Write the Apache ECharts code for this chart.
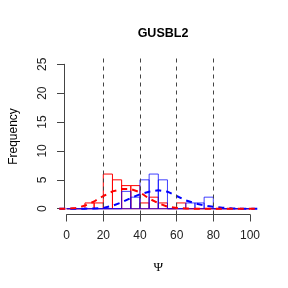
<!DOCTYPE html>
<html>
<head>
<meta charset="utf-8">
<script src="https://cdn.jsdelivr.net/npm/echarts@6/dist/echarts.min.js"></script>
<style>html,body{margin:0;padding:0;background:#fff}#c{width:288px;height:288px}</style>
</head>
<body>
<div id="c"></div>
<script>
// ---- data ----
var binStarts = [0,5,10,15,20,25,30,35,40,45,50,55,60,65,70,75,80,85,90,95];
var binWidth = 5;
var redCounts  = [0,0,1,1,6,5,4,4,1,2,1,0,1,0,0,0,0,0,0,0];
var blueCounts = [0,0,0,0,0,0,3,2,5,6,5,0,0,1,1,2,0,0,0,0];
var densX    = [-4,0,5,10,15,20,25,30,35,40,45,50,55,60,65,70,75,80,85,90,95,100,104];
var redDens  = [0,0.02,0.12,0.55,1.25,2.2,3.0,3.4,3.4,2.85,1.75,0.95,0.35,0.12,0.04,0.01,0,0,0,0,0,0,0];
var blueDens = [0,0,0,0.01,0.04,0.15,0.5,1.1,1.85,2.5,2.95,3.2,2.95,2.2,1.45,0.95,0.55,0.33,0.17,0.07,0.02,0.01,0];
var vLines = [20,40,60,80];
var xTicks = {min:0, max:100, step:20};
var yTicks = {min:0, max:25, step:5};
var titleText = 'GUSBL2';
var xName = 'Ψ';
var yName = 'Frequency';

// ---- layout ----
var plotL = 59.3, plotR = 257.3, plotT = 58.5, plotB = 214.5;
var xMin = -4, xMax = 104, yMin = -1, yMax = 26;
var sx = (plotR - plotL) / (xMax - xMin);
var sy = (plotB - plotT) / (yMax - yMin);

function histData(counts){
  return binStarts.map(function(s,i){ return [s, s+binWidth, counts[i]]; });
}
function zip(xs, ys){ return xs.map(function(x,i){ return [x, ys[i]]; }); }
function histRender(color){
  return function(params, api){
    var p0 = api.coord([api.value(0), api.value(2)]);
    var p1 = api.coord([api.value(1), 0]);
    return {
      type:'rect',
      shape:{x:p0[0], y:p0[1], width:p1[0]-p0[0], height:p1[1]-p0[1]},
      style:{fill:'none', stroke:color, lineWidth:1}
    };
  };
}

var font = 'Liberation Sans, Arial, sans-serif';
var chart = echarts.init(document.getElementById('c'), null, {renderer:'canvas'});
chart.setOption({
  animation:false,
  backgroundColor:'#fff',
  title:{text:titleText, left:158, top:22, textAlign:'center',
    textStyle:{fontSize:12.5, fontWeight:'bold', fontFamily:font, color:'#000'}},
  grid:[
    {left:plotL, top:plotT, width:plotR-plotL, height:plotB-plotT},
    {left:plotL + (xTicks.min-xMin)*sx, top:plotT, width:(xTicks.max-xTicks.min)*sx, height:plotB-plotT},
    {left:plotL, top:plotB-(yTicks.max-yMin)*sy, width:plotR-plotL, height:(yTicks.max-yTicks.min)*sy}
  ],
  xAxis:[
    {gridIndex:0, type:'value', min:xMin, max:xMax, show:false},
    {gridIndex:1, type:'value', min:xTicks.min, max:xTicks.max, interval:xTicks.step,
      axisLine:{show:true, lineStyle:{color:'#444', width:1}},
      axisTick:{show:true, inside:false, length:7, lineStyle:{color:'#444'}},
      axisLabel:{margin:15, fontSize:12, color:'#222', fontFamily:font},
      splitLine:{show:false},
      name:xName, nameLocation:'middle', nameGap:47,
      nameTextStyle:{fontSize:13, color:'#000', fontFamily:'Liberation Serif, serif'}},
    {gridIndex:2, type:'value', min:0, max:1, show:false}
  ],
  yAxis:[
    {gridIndex:0, type:'value', min:yMin, max:yMax, show:false},
    {gridIndex:1, type:'value', min:0, max:1, show:false},
    {gridIndex:2, type:'value', min:yTicks.min, max:yTicks.max, interval:yTicks.step,
      axisLine:{show:true, lineStyle:{color:'#444', width:1}},
      axisTick:{show:true, inside:false, length:7, lineStyle:{color:'#444'}},
      axisLabel:{margin:15, fontSize:12, color:'#222', rotate:90, fontFamily:font},
      splitLine:{show:false},
      name:yName, nameLocation:'middle', nameGap:44, nameRotate:90,
      nameTextStyle:{fontSize:12, color:'#000', fontFamily:font}}
  ],
  series:[
    {type:'custom', xAxisIndex:0, yAxisIndex:0, renderItem:histRender('#ff0000'),
      data:histData(redCounts), encode:{x:[0,1], y:2}, z:2},
    {type:'custom', xAxisIndex:0, yAxisIndex:0, renderItem:histRender('rgba(0,0,255,0.75)'),
      data:histData(blueCounts), encode:{x:[0,1], y:2}, z:3},
    {type:'line', xAxisIndex:0, yAxisIndex:0, data:zip(densX, blueDens), showSymbol:false,
      lineStyle:{color:'#0000ff', width:2, type:[6,5]}, z:4},
    {type:'line', xAxisIndex:0, yAxisIndex:0, data:zip(densX, redDens), showSymbol:false,
      lineStyle:{color:'#ff0000', width:2, type:[6,5]}, z:5,
      markLine:{silent:true, symbol:'none', label:{show:false},
        lineStyle:{color:'#444', width:1, type:[4,4]},
        data:vLines.map(function(v){ return {xAxis:v}; })}}
  ]
});
</script>
</body>
</html>
